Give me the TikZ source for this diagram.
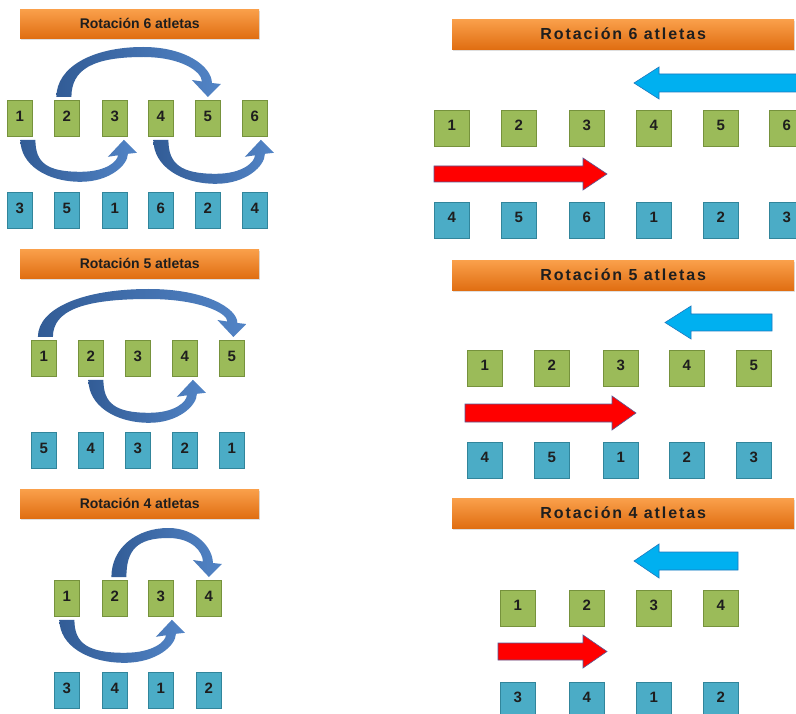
\documentclass[tikz,border=0pt]{standalone}
\usepackage{fontspec}
\setmainfont{Liberation Sans}
\newfontfamily\widefont[LetterSpace=12]{Liberation Sans}
\usetikzlibrary{calc,shadows}
\definecolor{gfill}{RGB}{155,187,89}
\definecolor{gdraw}{RGB}{118,146,60}
\definecolor{bfill}{RGB}{75,172,198}
\definecolor{bdraw}{RGB}{49,133,155}
\definecolor{otop}{RGB}{250,160,75}
\definecolor{obot}{RGB}{224,110,18}
\definecolor{cyanarr}{RGB}{0,176,240}
\definecolor{cyandraw}{RGB}{30,120,190}
\definecolor{redarr}{RGB}{255,0,0}
\definecolor{reddraw}{RGB}{90,90,150}
\definecolor{curveL}{RGB}{50,92,150}
\definecolor{curveR}{RGB}{82,132,198}
\definecolor{txt}{RGB}{30,30,30}
\newcommand\bentarrow[7]{%
  \coordinate (ta) at ($(#1.#3)+(#6,{#4*-3})$);
  \coordinate (tb) at ($(#2.#3)+(#7,{#4*-3})$);
  \shade[curvefill] ($(ta)+(-7.5,0)$)
    .. controls ($(ta)+(-7.5,{#4*-0.6*#5})$) and ($(ta)!0.2!(tb)+(0,{#4*-#5})$) .. ($(ta)!0.55!(tb)+(0,{#4*-#5})$)
    .. controls ($(ta)!0.85!(tb)+(0,{#4*-#5})$) and ($(tb)+(4,{#4*-0.6*#5})$) .. ($(tb)+(4,{#4*-14})$)
    -- ($(tb)+(13,{#4*-13})$) -- (tb) -- ($(tb)+(-16,{#4*-17})$) -- ($(tb)+(-6,{#4*-15.5})$)
    .. controls ($(tb)+(-6,{#4*-0.5*#5})$) and ($(ta)!0.82!(tb)+(0,{#4*(10-#5)})$) .. ($(ta)!0.55!(tb)+(0,{#4*(10-#5)})$)
    .. controls ($(ta)!0.2!(tb)+(0,{#4*(10-#5)})$) and ($(ta)+(7.5,{#4*-0.55*#5})$) .. ($(ta)+(7.5,0)$) -- cycle;
}
\begin{document}
\begin{tikzpicture}[x=1pt,y=-1pt,
  curvefill/.style={left color=curveL, right color=curveR},
  sbox/.style={anchor=north west, inner sep=0pt, minimum width=25pt, minimum height=36pt, line width=0.8pt, text=txt, font=\fontsize{15}{15}\selectfont\bfseries, text depth=3.5pt},
  wbox/.style={anchor=north west, inner sep=0pt, minimum width=35pt, minimum height=36pt, line width=0.8pt, text=txt, font=\fontsize{15}{15}\selectfont\bfseries, text depth=6pt},
  gbox/.style={fill=gfill, draw=gdraw},
  bbox/.style={fill=bfill, draw=bdraw},
  ltitle/.style={anchor=north west, inner sep=0pt, minimum width=239pt, minimum height=29pt, top color=otop, bottom color=obot, text=txt, font=\fontsize{14}{14}\selectfont\bfseries, drop shadow={shadow xshift=1pt, shadow yshift=-2pt, opacity=0.25}},
  rtitle/.style={anchor=north west, inner sep=0pt, minimum width=342pt, minimum height=30pt, top color=otop, bottom color=obot, text=txt, font=\widefont\bfseries\fontsize{16}{16}\selectfont, drop shadow={shadow xshift=1pt, shadow yshift=-2pt, opacity=0.25}},
  cyanblock/.style={fill=cyanarr, draw=cyandraw, line width=0.6pt},
  redblock/.style={fill=redarr, draw=reddraw, line width=0.6pt}]
\useasboundingbox (0,0) rectangle (796,714);
\clip (0,0) rectangle (796,714);
\fill[white] (0,0) rectangle (796,714);

% ---------- titles ----------
\node[ltitle] (tA) at (20,9) {Rotación 6 atletas};
\node[ltitle] (tB) at (20,249) {Rotación 5 atletas};
\node[ltitle] (tC) at (20,489) {Rotación 4 atletas};
\node[rtitle] (tD) at (452,19) {Rotación 6 atletas};
\node[rtitle] (tE) at (452,260) {Rotación 5 atletas};
\node[rtitle] (tF) at (452,498) {Rotación 4 atletas};

% ---------- left panel A ----------
\node[sbox,gbox] (a-g1) at (7,100) {1};
\node[sbox,gbox] (a-g2) at (54,100) {2};
\node[sbox,gbox] (a-g3) at (102,100) {3};
\node[sbox,gbox] (a-g4) at (148,100) {4};
\node[sbox,gbox] (a-g5) at (195,100) {5};
\node[sbox,gbox] (a-g6) at (242,100) {6};
\node[sbox,bbox] (a-b1) at (7,192) {3};
\node[sbox,bbox] (a-b2) at (54,192) {5};
\node[sbox,bbox] (a-b3) at (102,192) {1};
\node[sbox,bbox] (a-b4) at (148,192) {6};
\node[sbox,bbox] (a-b5) at (195,192) {2};
\node[sbox,bbox] (a-b6) at (242,192) {4};

% ---------- left panel B ----------
\node[sbox,gbox] (b-g1) at (31,340) {1};
\node[sbox,gbox] (b-g2) at (78,340) {2};
\node[sbox,gbox] (b-g3) at (125,340) {3};
\node[sbox,gbox] (b-g4) at (172,340) {4};
\node[sbox,gbox] (b-g5) at (219,340) {5};
\node[sbox,bbox] (b-b1) at (31,432) {5};
\node[sbox,bbox] (b-b2) at (78,432) {4};
\node[sbox,bbox] (b-b3) at (125,432) {3};
\node[sbox,bbox] (b-b4) at (172,432) {2};
\node[sbox,bbox] (b-b5) at (219,432) {1};

% ---------- left panel C ----------
\node[sbox,gbox] (c-g1) at (54,580) {1};
\node[sbox,gbox] (c-g2) at (102,580) {2};
\node[sbox,gbox] (c-g3) at (148,580) {3};
\node[sbox,gbox] (c-g4) at (196,580) {4};
\node[sbox,bbox] (c-b1) at (54,672) {3};
\node[sbox,bbox] (c-b2) at (102,672) {4};
\node[sbox,bbox] (c-b3) at (148,672) {1};
\node[sbox,bbox] (c-b4) at (196,672) {2};

% ---------- curved arrows ----------
\bentarrow{a-g2}{a-g5}{north}{1}{50}{-3}{0}
\bentarrow{a-g1}{a-g3}{south}{-1}{42}{8}{9}
\bentarrow{a-g4}{a-g6}{south}{-1}{44}{0}{6}
\bentarrow{b-g1}{b-g5}{north}{1}{48}{1.5}{1.5}
\bentarrow{b-g2}{b-g4}{south}{-1}{43}{5}{8}
\bentarrow{c-g2}{c-g4}{north}{1}{49}{4}{0}
\bentarrow{c-g1}{c-g3}{south}{-1}{43}{0}{11}

% ---------- right panel D ----------
\node[wbox,gbox] (d-g1) at (434,110) {1};
\node[wbox,gbox] (d-g2) at (501,110) {2};
\node[wbox,gbox] (d-g3) at (569,110) {3};
\node[wbox,gbox] (d-g4) at (636,110) {4};
\node[wbox,gbox] (d-g5) at (703,110) {5};
\node[wbox,gbox] (d-g6) at (769,110) {6};
\node[wbox,bbox] (d-b1) at (434,202) {4};
\node[wbox,bbox] (d-b2) at (501,202) {5};
\node[wbox,bbox] (d-b3) at (569,202) {6};
\node[wbox,bbox] (d-b4) at (636,202) {1};
\node[wbox,bbox] (d-b5) at (703,202) {2};
\node[wbox,bbox] (d-b6) at (769,202) {3};
\draw[cyanblock] (802,74) -- (659,74) -- (659,67) -- (634,83) -- (659,99) -- (659,92) -- (802,92) -- cycle;
\draw[redblock] (434,166) -- (583,166) -- (583,158) -- (607,174) -- (583,190) -- (583,182) -- (434,182) -- cycle;

% ---------- right panel E ----------
\node[wbox,gbox] (e-g1) at (467,350) {1};
\node[wbox,gbox] (e-g2) at (534,350) {2};
\node[wbox,gbox] (e-g3) at (603,350) {3};
\node[wbox,gbox] (e-g4) at (669,350) {4};
\node[wbox,gbox] (e-g5) at (736,350) {5};
\node[wbox,bbox] (e-b1) at (467,442) {4};
\node[wbox,bbox] (e-b2) at (534,442) {5};
\node[wbox,bbox] (e-b3) at (603,442) {1};
\node[wbox,bbox] (e-b4) at (669,442) {2};
\node[wbox,bbox] (e-b5) at (736,442) {3};
\draw[cyanblock] (772,314) -- (691,314) -- (691,306) -- (665,322.5) -- (691,339) -- (691,331) -- (772,331) -- cycle;
\draw[redblock] (465,404) -- (612,404) -- (612,396) -- (636,413) -- (612,430) -- (612,422) -- (465,422) -- cycle;

% ---------- right panel F ----------
\node[wbox,gbox] (f-g1) at (500,590) {1};
\node[wbox,gbox] (f-g2) at (569,590) {2};
\node[wbox,gbox] (f-g3) at (636,590) {3};
\node[wbox,gbox] (f-g4) at (703,590) {4};
\node[wbox,bbox] (f-b1) at (500,682) {3};
\node[wbox,bbox] (f-b2) at (569,682) {4};
\node[wbox,bbox] (f-b3) at (636,682) {1};
\node[wbox,bbox] (f-b4) at (703,682) {2};
\draw[cyanblock] (738,552) -- (659,552) -- (659,544) -- (634,561) -- (659,578) -- (659,570) -- (738,570) -- cycle;
\draw[redblock] (498,643) -- (583,643) -- (583,635) -- (607,651.5) -- (583,668) -- (583,660) -- (498,660) -- cycle;
\end{tikzpicture}
\end{document}
